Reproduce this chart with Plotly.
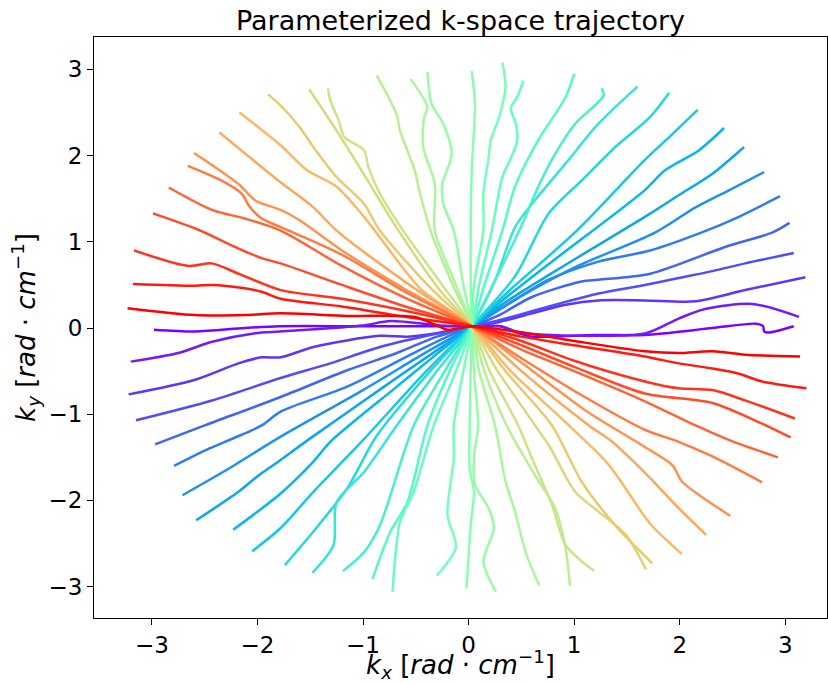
import math
import plotly.graph_objects as go

# Each spoke: points (kx, ky) running from its lower end, through the centre, to its upper end.
spoke_00 = [(-2.98, -0.02), (-2.59, -0.04), (-2.12, 0.0), (-1.79, 0.02), (-1.0, 0.02), (-0.3, 0.02),
            (0.03, 0.02), (0.3, 0.02), (0.45, -0.05), (0.6, -0.1), (1.2, -0.08), (1.67, -0.08),
            (2.31, 0.0), (2.72, 0.05), (2.79, 0.02), (2.80, -0.04), (2.86, -0.05), (3.08, 0.02)]
spoke_01 = [(-3.20, -0.39), (-2.75, -0.29), (-2.43, -0.16), (-2.02, -0.06), (-1.79, -0.04), (-1.0, 0.03),
            (-0.74, 0.08), (-0.27, 0.03), (0.03, 0.02), (0.3, 0.02), (0.45, -0.04), (0.6, -0.07),
            (1.2, -0.09), (1.68, -0.06), (1.99, 0.11), (2.24, 0.22), (2.69, 0.28), (3.13, 0.13)]
spoke_02 = [(-3.22, -0.77), (-2.59, -0.60), (-2.18, -0.41), (-1.96, -0.34), (-1.78, -0.34), (-1.47, -0.22),
            (-0.84, -0.09), (-0.58, -0.10), (-0.30, -0.06), (0.03, 0.02), (0.29, 0.07), (0.60, 0.17),
            (0.92, 0.27), (1.23, 0.32), (1.67, 0.32), (2.15, 0.31), (2.62, 0.44), (3.19, 0.59)]
spoke_03 = [(-3.15, -1.07), (-2.43, -0.84), (-1.78, -0.58), (-1.31, -0.41), (-0.84, -0.22), (-0.36, -0.08),
            (0.03, 0.02), (0.29, 0.09), (0.76, 0.25), (1.23, 0.40), (1.67, 0.50), (1.99, 0.58),
            (2.31, 0.66), (2.62, 0.75), (3.08, 0.87)]
spoke_04 = [(-2.97, -1.35), (-2.50, -1.13), (-1.78, -0.80), (-1.15, -0.49), (-0.68, -0.29), (-0.30, -0.10),
            (0.03, 0.02), (0.29, 0.15), (0.60, 0.36), (1.07, 0.54), (1.23, 0.56), (1.72, 0.63),
            (2.43, 0.94), (2.88, 1.11), (3.04, 1.22)]
spoke_05 = [(-2.79, -1.60), (-2.46, -1.40), (-2.21, -1.27), (-1.96, -1.13), (-1.78, -0.97), (-1.15, -0.68),
            (-0.52, -0.29), (-0.2, -0.1), (0.03, 0.02), (0.29, 0.21), (0.76, 0.56), (1.23, 0.77),
            (1.72, 0.90), (2.21, 1.11), (2.56, 1.29), (2.95, 1.53)]
spoke_06 = [(-2.71, -1.94), (-2.27, -1.63), (-1.78, -1.26), (-1.0, -0.72), (-0.4, -0.28),
            (0.03, 0.02), (0.4, 0.3), (1.0, 0.7), (1.77, 1.11), (2.15, 1.40), (2.47, 1.60), (2.80, 1.81)]
spoke_07 = [(-2.58, -2.23), (-2.18, -1.90), (-1.99, -1.71), (-1.78, -1.53), (-1.50, -1.28), (-0.8, -0.68),
            (-0.35, -0.3), (0.03, 0.02), (0.35, 0.3), (0.9, 0.72), (1.67, 1.29), (1.99, 1.54),
            (2.31, 1.79), (2.61, 2.10)]
spoke_08 = [(-2.23, -2.34), (-2.02, -2.15), (-1.78, -1.92), (-1.47, -1.55), (-1.31, -1.32), (-0.7, -0.7),
            (-0.3, -0.3), (0.03, 0.02), (0.3, 0.3), (0.8, 0.78), (1.67, 1.60), (1.86, 1.83),
            (2.18, 2.06), (2.42, 2.32)]
spoke_09 = [(-2.05, -2.59), (-1.78, -2.32), (-1.47, -1.90), (-1.0, -1.3), (-0.4, -0.5),
            (0.03, 0.02), (0.4, 0.45), (1.0, 1.1), (1.67, 1.95), (1.93, 2.25), (2.17, 2.53)]
spoke_10 = [(-1.74, -2.75), (-1.47, -2.36), (-1.15, -1.86), (-0.87, -1.25), (-0.4, -0.55),
            (0.03, 0.02), (0.44, 0.6), (0.76, 1.33), (1.07, 1.71), (1.39, 2.10), (1.72, 2.45), (1.90, 2.73)]
spoke_11 = [(-1.48, -2.84), (-1.28, -2.52), (-1.25, -2.02), (-0.99, -1.67), (-0.68, -1.13), (-0.3, -0.5),
            (0.03, 0.02), (0.25, 0.55), (0.44, 1.17), (0.60, 1.44), (0.92, 1.91), (1.23, 2.37), (1.60, 2.80)]
spoke_12 = [(-1.19, -2.82), (-0.99, -2.60), (-0.84, -2.29), (-0.52, -1.13), (-0.25, -0.55),
            (0.03, 0.02), (0.25, 0.55), (0.51, 1.21), (0.66, 1.64), (0.82, 2.02), (1.01, 2.37),
            (1.23, 2.62), (1.28, 2.70), (1.26, 2.78)]
spoke_13 = [(-0.91, -2.91), (-0.84, -2.67), (-0.74, -2.36), (-0.58, -2.02), (-0.39, -1.13), (-0.18, -0.5),
            (0.03, 0.02), (0.15, 0.5), (0.32, 1.13), (0.44, 1.64), (0.66, 2.18), (0.92, 2.68), (1.00, 2.95)]
spoke_14 = [(-0.72, -3.06), (-0.69, -2.60), (-0.65, -2.25), (-0.52, -1.90), (-0.33, -1.13), (-0.12, -0.5),
            (0.03, 0.02), (0.1, 0.5), (0.22, 1.13), (0.32, 1.75), (0.40, 1.97), (0.46, 2.17),
            (0.45, 2.36), (0.40, 2.55), (0.46, 2.68), (0.52, 2.87)]
spoke_15 = [(-0.30, -2.87), (-0.12, -2.54), (-0.20, -2.17), (-0.14, -1.51), (-0.14, -1.13), (-0.05, -0.5),
            (0.03, 0.02), (0.05, 0.5), (0.14, 1.13), (0.14, 1.56), (0.19, 1.98), (0.21, 2.18),
            (0.29, 2.45), (0.35, 2.80), (0.32, 3.08)]
spoke_16 = [(-0.02, -3.02), (0.02, -2.29), (0.05, -1.90), (0.01, -1.63), (0.01, -1.13), (0.02, -0.5),
            (0.03, 0.02), (0.02, 0.5), (0.02, 1.13), (0.03, 1.83), (0.06, 2.60), (0.03, 2.98)]
spoke_17 = [(0.26, -3.06), (0.14, -2.71), (0.24, -2.32), (0.19, -2.09), (0.06, -1.82), (0.05, -1.51),
            (0.09, -1.13), (0.05, -0.5), (0.03, 0.02), (-0.05, 0.5), (-0.14, 1.13), (-0.24, 1.44),
            (-0.25, 1.67), (-0.16, 2.02), (-0.24, 2.37), (-0.35, 2.60), (-0.39, 2.97)]
spoke_18 = [(0.67, -2.99), (0.54, -2.60), (0.44, -2.13), (0.35, -1.78), (0.25, -1.13), (0.1, -0.5),
            (0.03, 0.02), (-0.12, 0.5), (-0.32, 1.13), (-0.32, 1.67), (-0.43, 2.10), (-0.42, 2.45),
            (-0.39, 2.56), (-0.55, 2.89)]
spoke_19 = [(0.96, -2.99), (0.92, -2.56), (0.82, -2.09), (0.63, -1.71), (0.36, -1.13), (0.15, -0.5),
            (0.03, 0.02), (-0.15, 0.5), (-0.36, 1.13), (-0.46, 1.56), (-0.51, 1.83), (-0.58, 2.06),
            (-0.65, 2.29), (-0.68, 2.47), (-0.87, 2.93)]
spoke_20 = [(1.19, -2.82), (0.92, -2.52), (0.79, -2.05), (0.60, -1.51), (0.47, -1.13), (0.2, -0.5),
            (0.03, 0.02), (-0.25, 0.5), (-0.62, 1.13), (-0.84, 1.56), (-0.95, 1.87), (-0.99, 2.06),
            (-1.18, 2.22), (-1.23, 2.41), (-1.31, 2.64), (-1.33, 2.78)]
spoke_21 = [(1.68, -2.80), (1.49, -2.40), (1.23, -2.13), (1.01, -1.90), (0.76, -1.36), (0.63, -1.13),
            (0.25, -0.45), (0.03, 0.02), (-0.28, 0.45), (-0.7, 1.2), (-1.0, 1.8), (-1.25, 2.29), (-1.51, 2.77)]
spoke_22 = [(1.74, -2.73), (1.39, -2.29), (1.07, -1.78), (0.79, -1.13), (0.35, -0.5),
            (0.03, 0.02), (-0.35, 0.45), (-0.84, 1.13), (-0.99, 1.44), (-1.25, 1.75), (-1.47, 2.10),
            (-1.60, 2.33), (-1.78, 2.58), (-1.90, 2.71)]
spoke_23 = [(2.02, -2.62), (1.72, -2.27), (1.33, -1.59), (0.95, -1.13), (0.4, -0.5),
            (0.03, 0.02), (-0.45, 0.45), (-0.99, 1.29), (-1.25, 1.64), (-1.53, 1.83), (-1.78, 2.12), (-2.17, 2.50)]
spoke_24 = [(2.25, -2.40), (1.99, -2.09), (1.72, -1.74), (1.36, -1.32), (1.14, -1.13), (0.5, -0.5),
            (0.03, 0.02), (-0.5, 0.45), (-1.25, 1.13), (-1.47, 1.40), (-1.78, 1.69), (-2.36, 2.27)]
spoke_25 = [(2.48, -2.18), (2.21, -1.96), (2.02, -1.78), (1.93, -1.59), (1.67, -1.38), (1.1, -0.95),
            (0.5, -0.4), (0.03, 0.02), (-0.6, 0.45), (-1.2, 0.9), (-1.60, 1.25), (-1.78, 1.37),
            (-2.02, 1.48), (-2.18, 1.67), (-2.60, 2.03)]
spoke_26 = [(2.78, -1.79), (2.31, -1.49), (1.99, -1.32), (1.67, -1.18), (1.1, -0.8), (0.5, -0.35),
            (0.03, 0.02), (-0.6, 0.42), (-1.2, 0.85), (-1.78, 1.17), (-1.96, 1.27), (-2.07, 1.40),
            (-2.15, 1.56), (-2.34, 1.71), (-2.66, 1.88)]
spoke_27 = [(2.93, -1.50), (2.47, -1.30), (2.15, -1.13), (1.67, -0.85), (1.0, -0.5), (0.5, -0.25),
            (0.03, 0.02), (-0.6, 0.35), (-1.2, 0.72), (-1.78, 1.13), (-2.12, 1.27), (-2.43, 1.37), (-2.84, 1.63)]
spoke_28 = [(3.05, -1.27), (2.78, -1.11), (2.31, -0.87), (1.67, -0.76), (1.0, -0.45), (0.5, -0.2),
            (0.03, 0.02), (-0.6, 0.25), (-1.2, 0.5), (-1.78, 0.75), (-1.96, 0.81), (-2.21, 0.94),
            (-2.56, 1.14), (-2.99, 1.33)]
spoke_29 = [(3.09, -1.05), (2.62, -0.84), (2.31, -0.72), (1.99, -0.70), (1.67, -0.62), (1.0, -0.38),
            (0.5, -0.15), (0.03, 0.02), (-0.6, 0.2), (-1.2, 0.34), (-1.78, 0.44), (-2.18, 0.63),
            (-2.43, 0.75), (-2.65, 0.72), (-3.17, 0.90)]
spoke_30 = [(3.20, -0.70), (2.78, -0.62), (2.56, -0.53), (2.31, -0.47), (1.99, -0.41), (1.67, -0.33),
            (1.0, -0.2), (0.5, -0.1), (0.03, 0.02), (-0.6, 0.13), (-1.2, 0.25), (-1.78, 0.34),
            (-1.96, 0.42), (-2.12, 0.46), (-2.43, 0.50), (-2.59, 0.49), (-3.18, 0.51)]
spoke_31 = [(3.14, -0.33), (2.62, -0.31), (2.31, -0.27), (1.99, -0.29), (1.67, -0.27), (1.0, -0.15),
            (0.5, -0.05), (0.2, 0.0), (0.03, 0.02), (-0.20, -0.02), (-0.30, 0.03), (-0.52, 0.13),
            (-1.15, 0.14), (-1.78, 0.17), (-2.12, 0.15), (-2.59, 0.15), (-3.23, 0.23)]

SPOKES = [spoke_00, spoke_01, spoke_02, spoke_03, spoke_04, spoke_05, spoke_06, spoke_07,
          spoke_08, spoke_09, spoke_10, spoke_11, spoke_12, spoke_13, spoke_14, spoke_15,
          spoke_16, spoke_17, spoke_18, spoke_19, spoke_20, spoke_21, spoke_22, spoke_23,
          spoke_24, spoke_25, spoke_26, spoke_27, spoke_28, spoke_29, spoke_30, spoke_31]

TICKS = [-3, -2, -1, 0, 1, 2, 3]


def rainbow(t):
    """matplotlib 'rainbow' colormap."""
    r = min(1.0, max(0.0, abs(2 * t - 0.5)))
    g = min(1.0, max(0.0, math.sin(math.pi * t)))
    b = min(1.0, max(0.0, math.cos(math.pi * t / 2)))
    return "rgb(%d,%d,%d)" % (round(r * 255), round(g * 255), round(b * 255))


fig = go.Figure()
n = len(SPOKES)
for i, pts in enumerate(SPOKES):
    fig.add_trace(go.Scatter(
        x=[p[0] for p in pts],
        y=[p[1] for p in pts],
        mode="lines",
        line=dict(color=rainbow(i / (n - 1)), width=2.5, shape="spline", smoothing=0.8),
        showlegend=False,
        hoverinfo="skip",
    ))

FONT = "DejaVu Sans, Arial, sans-serif"
axis_common = dict(
    showgrid=False, zeroline=False,
    showline=True, mirror=True, linecolor="black", linewidth=1,
    ticks="outside", ticklen=6, tickwidth=1, tickcolor="black",
    tickvals=TICKS, tickfont=dict(family=FONT, size=23, color="black"),
)

LABEL_X = "<i>k<sub>x</sub></i> [<i>rad</i> · <i>cm</i><sup>−1</sup>]"
LABEL_Y = "<i>k<sub>y</sub></i> [<i>rad</i> · <i>cm</i><sup>−1</sup>]"

fig.update_layout(
    width=828, height=683,
    margin=dict(l=94, r=1, t=37, b=65),
    plot_bgcolor="white", paper_bgcolor="white",
    font=dict(family=FONT, color="black"),
    title=dict(text="Parameterized k-space trajectory", x=0.5, xref="paper", xanchor="center",
               y=1, yref="paper", yanchor="bottom", pad=dict(b=7),
               font=dict(family=FONT, size=27, color="black")),
    xaxis=dict(range=[-3.548, 3.395],
               title=dict(text=LABEL_X, font=dict(family=FONT, size=26), standoff=6),
               **axis_common),
    yaxis=dict(range=[-3.364, 3.376],
               title=dict(text=LABEL_Y, font=dict(family=FONT, size=26), standoff=5),
               **axis_common),
)

fig.write_html("out.html")
